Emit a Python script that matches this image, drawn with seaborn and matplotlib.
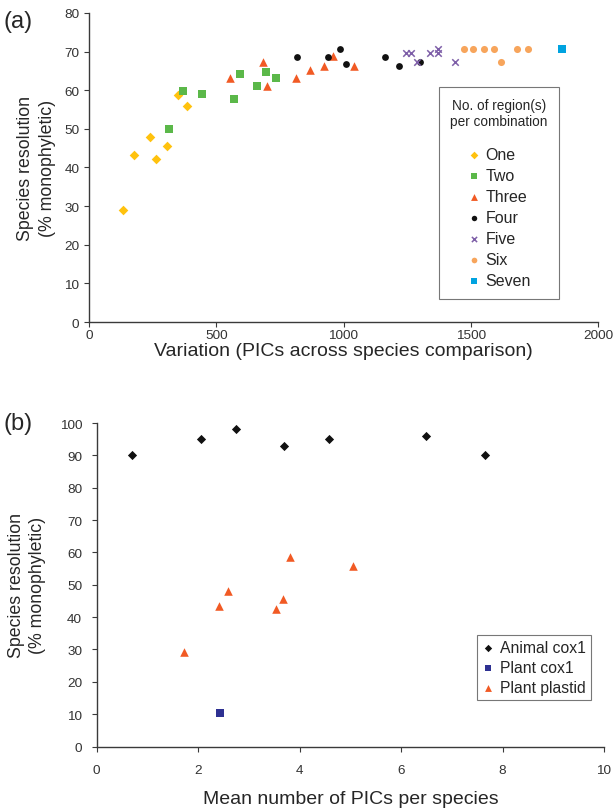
import numpy as np
import pandas as pd
import seaborn as sb
import matplotlib
matplotlib.use('Agg')
import matplotlib.pyplot as plt

# panel (a): variation vs resolution, by number of regions combined
one_x = [135, 178, 241, 263, 308, 350, 385]
one_y = [29.1, 43.3, 47.8, 42.2, 45.5, 58.7, 55.8]
two_x = [313, 368, 443, 571, 592, 659, 694, 736]
two_y = [50.0, 59.8, 59.1, 57.8, 64.2, 61.0, 64.6, 63.1]
three_x = [554, 683, 699, 813, 868, 922, 958, 1041]
three_y = [63.1, 67.4, 61.1, 63.1, 65.3, 66.4, 68.9, 66.4]
four_x = [816, 939, 988, 1011, 1163, 1219, 1300]
four_y = [68.5, 68.5, 70.7, 66.7, 68.5, 66.3, 67.4]
five_x = [1245, 1265, 1290, 1341, 1373, 1373, 1438]
five_y = [69.7, 69.7, 67.4, 69.7, 70.7, 69.7, 67.4]
six_x = [1474, 1510, 1551, 1590, 1617, 1681, 1724]
six_y = [70.7, 70.7, 70.7, 70.7, 67.4, 70.7, 70.7]
seven_x = [1857]
seven_y = [70.7]

# panel (b): mean PICs per species vs resolution
animal_x = [0.69, 2.05, 2.74, 3.69, 4.57, 6.49, 7.66]
animal_y = [90, 95, 98, 93, 95, 96, 90]
plantcox_x = [2.43]
plantcox_y = [10.3]
plastid_x = [1.72, 2.42, 2.59, 3.54, 3.67, 3.82, 5.05]
plastid_y = [29.3, 43.4, 48.0, 42.4, 45.6, 58.6, 55.7]

groups_a = [('One', one_x, one_y, 'D', '#FFC20E', 24),
            ('Two', two_x, two_y, 's', '#5BB849', 30),
            ('Three', three_x, three_y, '^', '#F15A24', 38),
            ('Four', four_x, four_y, 'o', '#111111', 24),
            ('Five', five_x, five_y, 'x', '#7E5FA8', 22),
            ('Six', six_x, six_y, 'o', '#F7A55C', 26),
            ('Seven', seven_x, seven_y, 's', '#00A3E0', 30)]

groups_b = [('Animal cox1', animal_x, animal_y, 'D', '#111111', 22),
            ('Plant cox1', plantcox_x, plantcox_y, 's', '#2E3192', 30),
            ('Plant plastid', plastid_x, plastid_y, '^', '#F15A24', 38)]

sb.set_style('ticks')
plt.rcParams['font.family'] = ['Liberation Sans', 'DejaVu Sans']
ink = '#3a3a3a'
plt.rcParams.update({'axes.edgecolor': ink, 'xtick.color': ink, 'ytick.color': ink,
                     'xtick.labelcolor': '#333333', 'ytick.labelcolor': '#333333',
                     'axes.linewidth': 1.0, 'xtick.major.size': 3.5, 'ytick.major.size': 3.5})

fig = plt.figure(figsize=(6.16, 8.12), dpi=100)
ax_a = fig.add_axes([0.1445, 0.6022, 0.8263, 0.3806])
ax_b = fig.add_axes([0.157, 0.0794, 0.8235, 0.3984])


def draw(ax, groups):
    for name, xs, ys, m, c, s in groups:
        df = pd.DataFrame({'x': xs, 'y': ys})
        if m == 'x':
            sb.scatterplot(data=df, x='x', y='y', marker=m, color=c, edgecolor=c,
                           s=s, linewidth=1.1, label=name, ax=ax)
        else:
            sb.scatterplot(data=df, x='x', y='y', marker=m, color=c,
                           s=s, linewidth=0, label=name, ax=ax)
    sb.despine(ax=ax)
    ax.tick_params(labelsize=9.7)


draw(ax_a, groups_a)
ax_a.set_xlim(0, 2000)
ax_a.set_ylim(0, 80)
ax_a.set_xticks(np.arange(0, 2001, 500))
ax_a.set_yticks(np.arange(0, 81, 10))
ax_a.tick_params(axis='x', pad=1.5)
ax_a.set_xlabel('Variation (PICs across species comparison)', fontsize=14, labelpad=1)
ax_a.set_ylabel('Species resolution\n(% monophyletic)', fontsize=12.8, labelpad=6,
                linespacing=1.35)
leg = ax_a.legend(title='No. of region(s)\nper combination', loc='upper left',
                  bbox_to_anchor=(0.688, 0.762), fontsize=11.5, title_fontsize=9.8,
                  fancybox=False, edgecolor='#777777', framealpha=1,
                  labelspacing=0.37, handlelength=0.8, handletextpad=0.35,
                  borderpad=0.7, markerscale=0.8, borderaxespad=0)
leg.get_title().set_multialignment('center')
leg._legend_box.sep = 14
leg.get_frame().set_linewidth(0.8)

draw(ax_b, groups_b)
ax_b.set_xlim(0, 10)
ax_b.set_ylim(0, 100)
ax_b.set_xticks(np.arange(0, 11, 2))
ax_b.set_yticks(np.arange(0, 101, 10))
ax_b.tick_params(axis='x', pad=9)
ax_b.tick_params(axis='y', pad=7)
ax_b.set_xlabel('Mean number of PICs per species', fontsize=14, labelpad=10)
ax_b.set_ylabel('Species resolution\n(% monophyletic)', fontsize=12.8, labelpad=10,
                linespacing=1.25)
lb = ax_b.legend(loc='upper left', bbox_to_anchor=(0.75, 0.345), fontsize=11.3,
                 fancybox=False, edgecolor='#777777', framealpha=1,
                 labelspacing=0.33, handlelength=0.8, handletextpad=0.35,
                 borderpad=0.3, markerscale=0.8, borderaxespad=0)
lb.get_frame().set_linewidth(0.8)

fig.text(0.006, 0.9735, '(a)', fontsize=17, va='center', ha='left')
fig.text(0.006, 0.478, '(b)', fontsize=17, va='center', ha='left')

fig.savefig('out.png', dpi=100)
